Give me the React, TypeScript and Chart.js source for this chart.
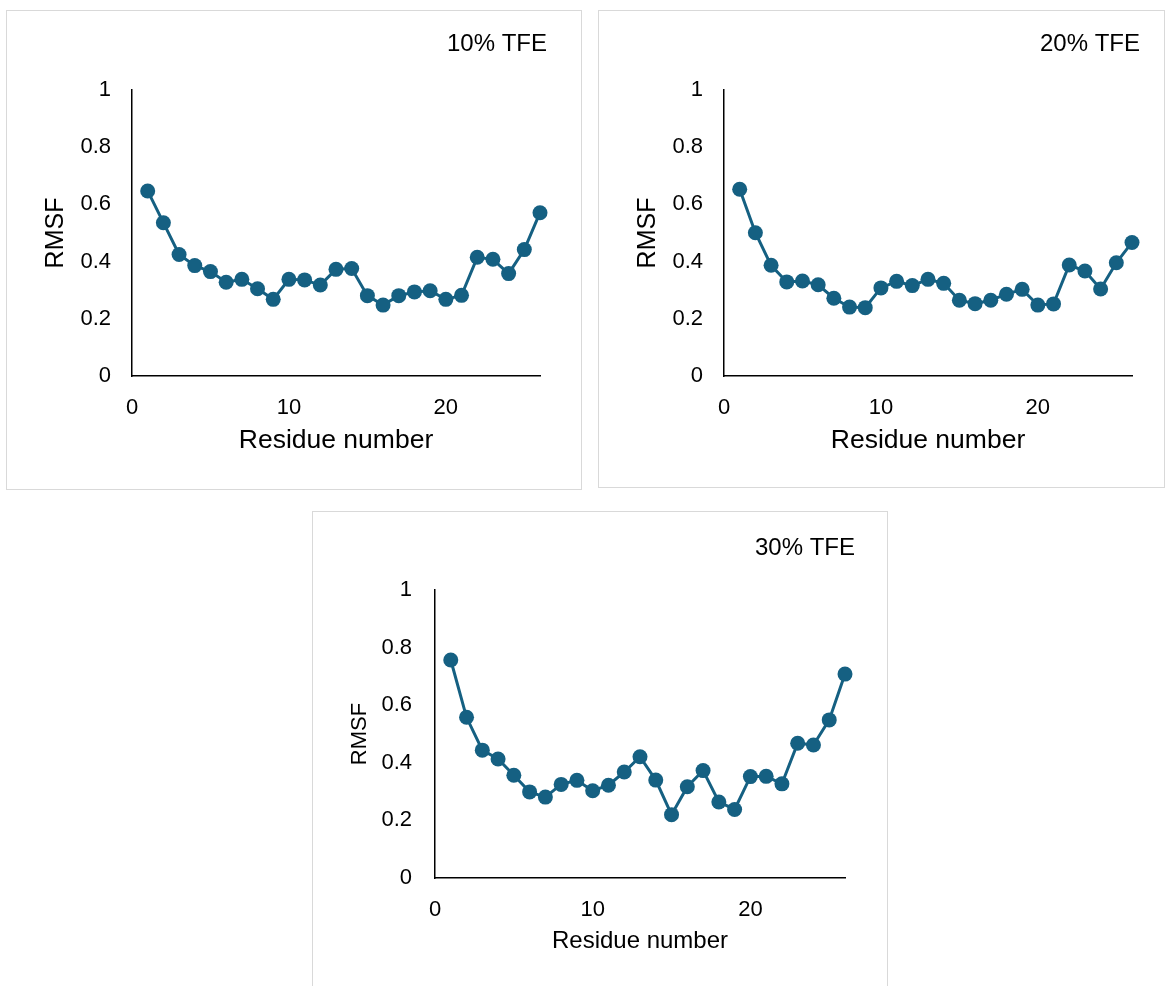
import React, { useEffect, useRef } from "react";
import { Chart, registerables } from "chart.js";

Chart.register(...registerables);

const residues = [1, 2, 3, 4, 5, 6, 7, 8, 9, 10, 11, 12, 13, 14, 15, 16, 17, 18, 19, 20, 21, 22, 23, 24, 25, 26];
const rmsf10 = [0.647, 0.536, 0.425, 0.386, 0.365, 0.328, 0.338, 0.305, 0.268, 0.338, 0.336, 0.318, 0.373, 0.376, 0.281, 0.248, 0.281, 0.294, 0.298, 0.268, 0.282, 0.415, 0.408, 0.358, 0.442, 0.571];
const rmsf20 = [0.653, 0.501, 0.387, 0.329, 0.332, 0.319, 0.272, 0.241, 0.239, 0.308, 0.331, 0.316, 0.338, 0.324, 0.265, 0.253, 0.265, 0.286, 0.303, 0.248, 0.252, 0.388, 0.367, 0.304, 0.396, 0.467];
const rmsf30 = [0.757, 0.558, 0.444, 0.413, 0.357, 0.299, 0.281, 0.325, 0.339, 0.303, 0.322, 0.368, 0.421, 0.340, 0.220, 0.317, 0.373, 0.264, 0.238, 0.352, 0.353, 0.327, 0.468, 0.462, 0.549, 0.708];
const panelTitles = ["10% TFE", "20% TFE", "30% TFE"];
const xAxisTitle = "Residue number";
const yAxisTitle = "RMSF";

const FONT = '"Liberation Sans", Arial, "Noto Sans", sans-serif';
const COLOR = "#156082";

type Geo = {
  left: number; top: number; w: number; h: number;
  padRight: number; rightW: number;
  yW: number; yTitleSize: number; yTitlePad: number; yTickPad: number;
  xH: number; xTickPad: number; xTitleSize: number; xTitlePad: number;
  tTop: number; tBottom: number;
};

const geos: Geo[] = [
  { left: 6, top: 10, w: 576, h: 480, padRight: 34, rightW: 7, yW: 125, yTitleSize: 25, yTitlePad: 34, yTickPad: 21, xH: 113, xTickPad: 19, xTitleSize: 26.5, xTitlePad: 32, tTop: 18.6, tBottom: 31.6 },
  { left: 598, top: 10, w: 567, h: 478, padRight: 24, rightW: 8, yW: 125, yTitleSize: 25, yTitlePad: 34, yTickPad: 21, xH: 111, xTickPad: 19, xTitleSize: 26.5, xTitlePad: 30, tTop: 18.6, tBottom: 31.6 },
  { left: 312, top: 511, w: 576, h: 480, padRight: 32, rightW: 10, yW: 122, yTitleSize: 22, yTitlePad: 34, yTickPad: 23, xH: 112, xTickPad: 19, xTitleSize: 24, xTitlePad: 34, tTop: 21.6, tBottom: 27.6 },
];

const seriesList = [rmsf10, rmsf20, rmsf30];

function Panel({ idx }: { idx: number }) {
  const ref = useRef<HTMLCanvasElement | null>(null);
  const g = geos[idx];
  useEffect(() => {
    if (!ref.current) return;
    const values = seriesList[idx];
    const chart = new Chart(ref.current, {
      type: "line",
      data: {
        datasets: [
          {
            data: residues.map((r, i) => ({ x: r, y: values[i] })),
            borderColor: COLOR,
            backgroundColor: COLOR,
            borderWidth: 3,
            pointRadius: 7.5,
            pointBorderWidth: 0,
            pointBackgroundColor: COLOR,
            tension: 0,
            clip: false,
          },
        ],
      },
      options: {
        animation: false,
        responsive: false,
        maintainAspectRatio: false,
        events: [],
        layout: { padding: { left: 0, right: g.padRight, top: 0, bottom: 0 } },
        plugins: {
          legend: { display: false },
          tooltip: { enabled: false },
          title: {
            display: true,
            text: panelTitles[idx],
            align: "end",
            color: "#000",
            font: { family: FONT, size: 24, weight: "normal" },
            padding: { top: g.tTop, bottom: g.tBottom },
          },
        },
        scales: {
          x: {
            type: "linear",
            position: "bottom",
            min: 0,
            max: 26,
            grid: { display: false, drawTicks: false },
            border: { display: true, color: "#000", width: 1.5 },
            ticks: {
              stepSize: 10,
              includeBounds: false,
              color: "#000",
              padding: g.xTickPad,
              maxRotation: 0,
              font: { family: FONT, size: 22 },
            },
            title: {
              display: true,
              text: xAxisTitle,
              color: "#000",
              font: { family: FONT, size: g.xTitleSize },
              padding: { top: 0, bottom: g.xTitlePad },
            },
            afterFit: (s: any) => { s.height = g.xH; },
          },
          y: {
            type: "linear",
            position: "left",
            min: 0,
            max: 1,
            grid: { display: false, drawTicks: false },
            border: { display: true, color: "#000", width: 1.5 },
            ticks: {
              stepSize: 0.2,
              color: "#000",
              padding: g.yTickPad,
              font: { family: FONT, size: 22 },
              callback: (v: any) => String(Number(Number(v).toFixed(1))),
            },
            title: {
              display: true,
              text: yAxisTitle,
              color: "#000",
              font: { family: FONT, size: g.yTitleSize },
              padding: { top: g.yTitlePad, bottom: 0 },
            },
            afterFit: (s: any) => { s.width = g.yW; },
          },
          yRight: {
            type: "linear",
            position: "right",
            display: true,
            grid: { display: false, drawTicks: false },
            border: { display: false },
            ticks: { display: false },
            afterFit: (s: any) => { s.width = g.rightW; },
          },
        },
      } as any,
    });
    return () => chart.destroy();
  }, [idx]);
  return (
    <div
      style={{
        position: "absolute",
        left: g.left,
        top: g.top,
        width: g.w,
        height: g.h,
        boxSizing: "border-box",
        border: "1px solid #d9d9d9",
        background: "#fff",
      }}
    >
      <canvas ref={ref} width={g.w - 2} height={g.h - 2} style={{ display: "block", width: g.w - 2, height: g.h - 2 }} />
    </div>
  );
}

export default function App() {
  return (
    <div style={{ position: "absolute", left: 0, top: 0, width: 1165, height: 986, overflow: "hidden", background: "#fff" }}>
      <Panel idx={0} />
      <Panel idx={1} />
      <Panel idx={2} />
    </div>
  );
}
